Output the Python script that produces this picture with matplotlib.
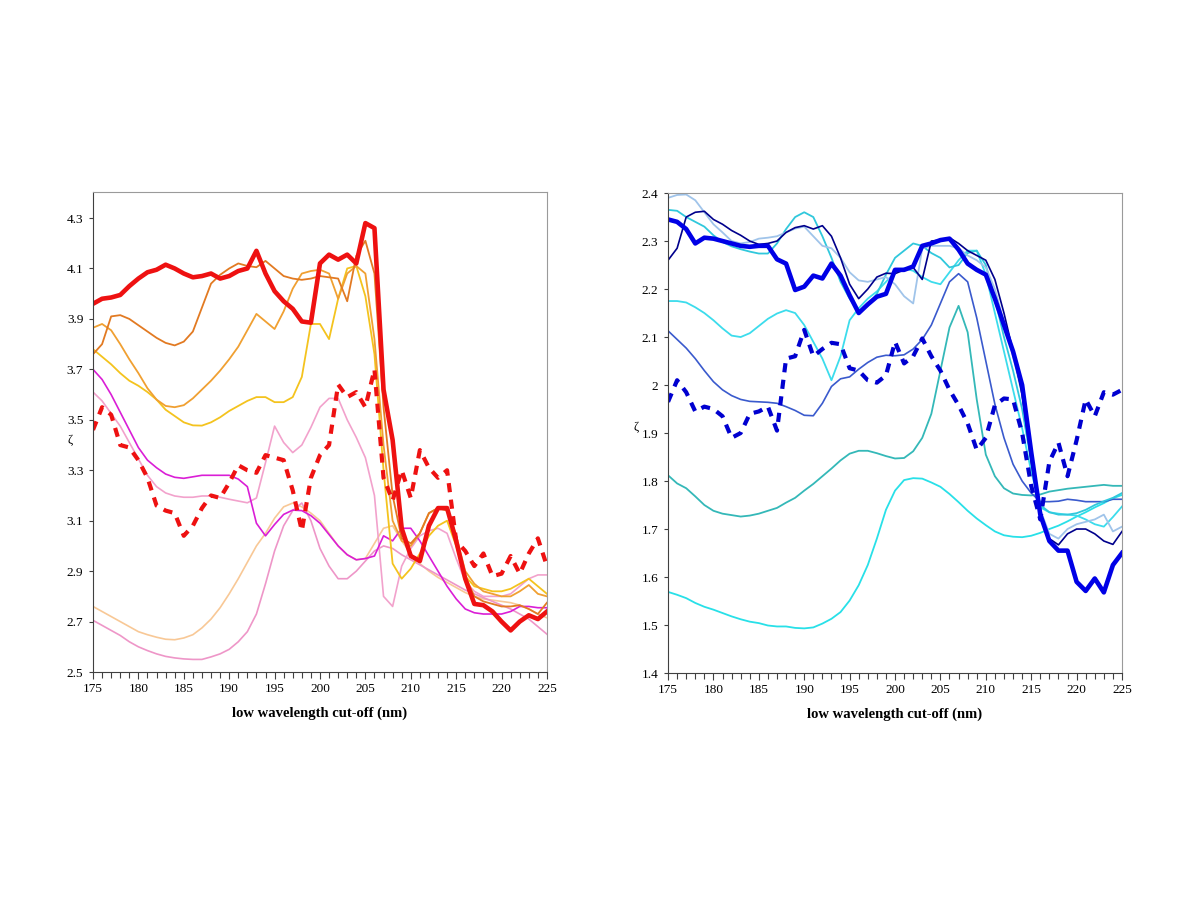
import matplotlib
matplotlib.use('Agg')
import matplotlib.pyplot as plt
from matplotlib.ticker import MultipleLocator, FormatStrFormatter

plt.rcParams['font.family'] = ['Liberation Serif', 'DejaVu Serif']

# wavelength cut-off (nm)
wl = list(range(175, 226))

# left panel
red_thick = [3.96, 3.98, 3.985, 3.995, 4.03, 4.06, 4.085, 4.095, 4.115, 4.10,
             4.08, 4.065, 4.07, 4.08, 4.06, 4.07, 4.09, 4.10, 4.17, 4.08,
             4.01, 3.97, 3.94, 3.89, 3.885, 4.12, 4.155, 4.135, 4.155, 4.12,
             4.28, 4.26, 3.62, 3.42, 3.07, 2.96, 2.94, 3.08, 3.15, 3.15,
             3.02, 2.87, 2.77, 2.765, 2.74, 2.70, 2.665, 2.70, 2.725, 2.71,
             2.74]
red_dash = [3.46, 3.55, 3.52, 3.40, 3.39, 3.34, 3.27, 3.16, 3.14, 3.13,
            3.04, 3.08, 3.15, 3.20, 3.19, 3.25, 3.32, 3.30, 3.29, 3.36,
            3.35, 3.34, 3.22, 3.06, 3.27, 3.36, 3.40, 3.64, 3.59, 3.61,
            3.55, 3.70, 3.27, 3.18, 3.30, 3.19, 3.38, 3.31, 3.27, 3.30,
            3.02, 2.98, 2.92, 2.97, 2.88, 2.89, 2.96, 2.89, 2.97, 3.03,
            2.92]
dark_orange = [3.76, 3.80, 3.91, 3.915, 3.90, 3.875, 3.85, 3.825, 3.805, 3.795,
               3.81, 3.85, 3.945, 4.04, 4.075, 4.10, 4.12, 4.11, 4.105, 4.13,
               4.10, 4.07, 4.06, 4.055, 4.06, 4.07, 4.065, 4.06, 3.97, 4.15,
               4.21, 4.08, 3.55, 3.20, 3.03, 3.01, 3.05, 3.13, 3.15, 3.14,
               3.02, 2.88, 2.80, 2.78, 2.77, 2.76, 2.76, 2.765, 2.75, 2.73,
               2.775]
orange = [3.865, 3.88, 3.855, 3.80, 3.74, 3.685, 3.625, 3.58, 3.555, 3.55,
          3.558, 3.585, 3.62, 3.655, 3.695, 3.74, 3.79, 3.855, 3.92, 3.89,
          3.86, 3.93, 4.02, 4.08, 4.09, 4.095, 4.08, 3.98, 4.08, 4.11,
          4.08, 3.82, 3.40, 3.10, 3.02, 3.00, 3.05, 3.13, 3.15, 3.15,
          3.04, 2.90, 2.85, 2.82, 2.81, 2.80, 2.80, 2.82, 2.845, 2.81,
          2.80]
yellow = [3.78, 3.75, 3.72, 3.685, 3.655, 3.635, 3.61, 3.58, 3.54, 3.515,
          3.49, 3.478, 3.477, 3.49, 3.51, 3.535, 3.555, 3.575, 3.59, 3.59,
          3.57, 3.57, 3.59, 3.67, 3.88, 3.88, 3.82, 3.98, 4.10, 4.11,
          3.99, 3.76, 3.30, 2.93, 2.87, 2.91, 2.97, 3.04, 3.08, 3.10,
          3.00, 2.88, 2.84, 2.83, 2.82, 2.82, 2.83, 2.85, 2.87, 2.84,
          2.81]
magenta = [3.70, 3.66, 3.60, 3.53, 3.46, 3.39, 3.34, 3.31, 3.285, 3.272,
           3.268, 3.274, 3.28, 3.28, 3.28, 3.28, 3.265, 3.235, 3.09, 3.04,
           3.085, 3.125, 3.142, 3.14, 3.12, 3.09, 3.045, 3.00, 2.965, 2.945,
           2.95, 2.96, 3.04, 3.02, 3.07, 3.07, 3.02, 2.96, 2.90, 2.84,
           2.79, 2.75, 2.735, 2.73, 2.73, 2.73, 2.74, 2.76, 2.76, 2.755,
           2.755]
pink_a = [3.61, 3.575, 3.525, 3.475, 3.41, 3.345, 3.28, 3.235, 3.21, 3.198,
          3.193, 3.193, 3.198, 3.198, 3.193, 3.185, 3.178, 3.171, 3.19, 3.33,
          3.475, 3.41, 3.37, 3.40, 3.47, 3.55, 3.585, 3.585, 3.50, 3.43,
          3.35, 3.20, 2.80, 2.76, 2.92, 2.99, 3.04, 3.06, 3.07, 3.05,
          2.95, 2.86, 2.82, 2.80, 2.80, 2.80, 2.81, 2.84, 2.87, 2.885,
          2.885]
pink_b = [2.705, 2.685, 2.665, 2.645, 2.62, 2.60, 2.585, 2.572, 2.562, 2.556,
          2.552, 2.55, 2.55, 2.56, 2.572, 2.59, 2.62, 2.66, 2.73, 2.85,
          2.98, 3.08, 3.14, 3.17, 3.10, 2.99, 2.92, 2.87, 2.87, 2.90,
          2.94, 2.98, 3.00, 2.99, 2.965, 2.945, 2.925, 2.905, 2.885, 2.865,
          2.845, 2.825, 2.81, 2.795, 2.78, 2.765, 2.75, 2.73, 2.71, 2.68,
          2.65]
peach = [2.76, 2.74, 2.72, 2.70, 2.68, 2.66, 2.648, 2.638, 2.63, 2.628,
         2.635, 2.648, 2.675, 2.71, 2.755, 2.81, 2.87, 2.935, 3.00, 3.05,
         3.11, 3.155, 3.17, 3.155, 3.13, 3.10, 3.05, 3.00, 2.965, 2.945,
         2.95, 3.01, 3.07, 3.08, 3.02, 2.97, 2.93, 2.90, 2.875, 2.855,
         2.835, 2.815, 2.80, 2.79, 2.785, 2.78, 2.775, 2.765, 2.75, 2.73,
         2.715]

# right panel
blue_thick = [2.345, 2.34, 2.325, 2.295, 2.307, 2.305, 2.30, 2.295, 2.29, 2.288,
              2.29, 2.29, 2.262, 2.253, 2.198, 2.205, 2.228, 2.222, 2.253, 2.228,
              2.187, 2.15, 2.168, 2.184, 2.19, 2.24, 2.24, 2.247, 2.29, 2.295,
              2.302, 2.305, 2.282, 2.253, 2.24, 2.23, 2.18, 2.125, 2.07, 2.00,
              1.86, 1.73, 1.675, 1.655, 1.655, 1.59, 1.571, 1.597, 1.568, 1.625,
              1.65]
blue_dash = [1.965, 2.01, 1.985, 1.945, 1.955, 1.950, 1.935, 1.89, 1.90, 1.94,
             1.945, 1.955, 1.905, 2.055, 2.06, 2.115, 2.06, 2.075, 2.088, 2.085,
             2.035, 2.03, 2.01, 2.005, 2.02, 2.09, 2.045, 2.06, 2.097, 2.06,
             2.03, 1.99, 1.958, 1.92, 1.865, 1.89, 1.958, 1.972, 1.97, 1.90,
             1.79, 1.72, 1.84, 1.88, 1.81, 1.885, 1.97, 1.935, 1.985, 1.98,
             1.99]
navy = [2.26, 2.285, 2.35, 2.36, 2.362, 2.345, 2.335, 2.322, 2.312, 2.30,
        2.293, 2.295, 2.30, 2.318, 2.328, 2.332, 2.325, 2.332, 2.31, 2.265,
        2.21, 2.18, 2.20, 2.225, 2.233, 2.232, 2.24, 2.245, 2.22, 2.30,
        2.302, 2.307, 2.295, 2.28, 2.27, 2.26, 2.22, 2.15, 2.07, 1.98,
        1.84, 1.73, 1.68, 1.667, 1.69, 1.70, 1.70, 1.69, 1.675, 1.668,
        1.695]
light_blue = [2.39, 2.396, 2.397, 2.385, 2.36, 2.335, 2.318, 2.30, 2.295, 2.298,
              2.305, 2.307, 2.31, 2.318, 2.326, 2.33, 2.31, 2.29, 2.285, 2.265,
              2.235, 2.218, 2.215, 2.22, 2.225, 2.21, 2.185, 2.17, 2.285, 2.29,
              2.29, 2.29, 2.285, 2.27, 2.26, 2.245, 2.20, 2.13, 2.06, 1.98,
              1.85, 1.74, 1.69, 1.68, 1.70, 1.71, 1.715, 1.72, 1.73, 1.695,
              1.705]
royal = [2.113, 2.095, 2.077, 2.055, 2.03, 2.007, 1.99, 1.978, 1.97, 1.966,
         1.965, 1.964, 1.962, 1.955, 1.947, 1.937, 1.936, 1.962, 1.997, 2.013,
         2.017, 2.033, 2.047, 2.058, 2.062, 2.061, 2.063, 2.075, 2.095, 2.125,
         2.17, 2.215, 2.232, 2.215, 2.14, 2.05, 1.96, 1.89, 1.835, 1.80,
         1.775, 1.757, 1.757, 1.758, 1.762, 1.76, 1.757, 1.757, 1.757, 1.762,
         1.762]
teal = [1.812, 1.795, 1.785, 1.768, 1.75, 1.738, 1.732, 1.729, 1.726, 1.728,
        1.732, 1.738, 1.744, 1.755, 1.765, 1.78, 1.794, 1.81, 1.826, 1.843,
        1.857, 1.863, 1.863, 1.858, 1.852, 1.847, 1.848, 1.862, 1.89, 1.94,
        2.03, 2.12, 2.165, 2.11, 1.97, 1.855, 1.81, 1.785, 1.774, 1.771,
        1.77, 1.772, 1.778, 1.781, 1.784, 1.786, 1.788, 1.79, 1.792, 1.79,
        1.79]
cyan1 = [2.365, 2.363, 2.35, 2.34, 2.33, 2.312, 2.298, 2.289, 2.283, 2.278,
         2.274, 2.274, 2.295, 2.325, 2.35, 2.36, 2.35, 2.31, 2.265, 2.215,
         2.18, 2.152, 2.165, 2.19, 2.23, 2.265, 2.28, 2.295, 2.29, 2.275,
         2.265, 2.245, 2.25, 2.275, 2.28, 2.25, 2.18, 2.10, 2.03, 1.95,
         1.84, 1.75, 1.735, 1.73, 1.73, 1.733, 1.74, 1.75, 1.758, 1.765,
         1.775]
cyan2 = [2.175, 2.175, 2.172, 2.162, 2.15, 2.135, 2.118, 2.103, 2.10, 2.108,
         2.123, 2.138, 2.149, 2.156, 2.15, 2.125, 2.09, 2.055, 2.01, 2.06,
         2.135, 2.16, 2.18, 2.195, 2.215, 2.235, 2.243, 2.238, 2.225, 2.215,
         2.21, 2.235, 2.26, 2.28, 2.28, 2.23, 2.15, 2.07, 1.99, 1.91,
         1.82, 1.745, 1.735, 1.732, 1.73, 1.728, 1.72, 1.71, 1.705, 1.725,
         1.747]
aqua = [1.569, 1.563, 1.556, 1.546, 1.538, 1.532, 1.525, 1.518, 1.512, 1.507,
        1.504, 1.499, 1.497, 1.497, 1.494, 1.493, 1.495, 1.503, 1.513, 1.527,
        1.551, 1.583, 1.625, 1.68, 1.74, 1.78, 1.802, 1.806, 1.805, 1.797,
        1.788, 1.773, 1.756, 1.738, 1.722, 1.708, 1.695, 1.687, 1.684, 1.683,
        1.686, 1.692, 1.70, 1.707, 1.716, 1.726, 1.735, 1.745, 1.754, 1.764,
        1.771]

fig = plt.figure(figsize=(12, 9), dpi=100)
ax1 = fig.add_axes([0.0775, 0.2533, 0.3783, 0.5333])
ax2 = fig.add_axes([0.5567, 0.2522, 0.3783, 0.5333])

# thin lines first, thick ones on top
ax1.plot(wl, peach, color='#F8C896', lw=1.2)
ax1.plot(wl, pink_b, color='#EE96C8', lw=1.2)
ax1.plot(wl, pink_a, color='#F2A2CC', lw=1.2)
ax1.plot(wl, magenta, color='#DA1ED6', lw=1.2)
ax1.plot(wl, yellow, color='#F4C31E', lw=1.3)
ax1.plot(wl, orange, color='#F0A032', lw=1.3)
ax1.plot(wl, dark_orange, color='#E27A22', lw=1.3)
ax1.plot(wl, red_dash, color='#EE1111', lw=3, dashes=(2.2, 1.8))
ax1.plot(wl, red_thick, color='#EE1111', lw=3.3)

ax2.plot(wl, aqua, color='#28E0E8', lw=1.3)
ax2.plot(wl, teal, color='#34B8B8', lw=1.3)
ax2.plot(wl, royal, color='#3A5ACD', lw=1.2)
ax2.plot(wl, cyan2, color='#3CDCEC', lw=1.3)
ax2.plot(wl, cyan1, color='#30C8DC', lw=1.3)
ax2.plot(wl, light_blue, color='#A0C4EA', lw=1.3)
ax2.plot(wl, navy, color='#00008C', lw=1.2)
ax2.plot(wl, blue_dash, color='#0000D0', lw=3, dashes=(2.2, 1.8))
ax2.plot(wl, blue_thick, color='#0000E6', lw=3.3)

ax1.set_ylim(2.5, 4.403)
ax1.set_yticks([2.5, 2.7, 2.9, 3.1, 3.3, 3.5, 3.7, 3.9, 4.1, 4.3])
ax1.yaxis.set_major_formatter(FormatStrFormatter('%.1f'))
ax2.set_ylim(1.4, 2.4)
ax2.yaxis.set_major_locator(MultipleLocator(0.1))
ax2.yaxis.set_major_formatter(plt.FuncFormatter(lambda v, p: '%g' % round(v, 2)))

for ax in (ax1, ax2):
    ax.set_xlim(175, 225)
    ax.xaxis.set_major_locator(MultipleLocator(5))
    ax.xaxis.set_minor_locator(MultipleLocator(1))
    ax.tick_params(axis='x', which='major', direction='out', length=5,
                   width=0.8, labelsize=9.5, pad=3, color='#404040')
    ax.tick_params(axis='x', which='minor', direction='out', length=4,
                   width=0.8, color='#404040')
    ax.tick_params(axis='y', direction='out', length=3, width=0.8,
                   labelsize=9.5, pad=4, color='#404040')
    ax.spines['left'].set_color('#404040')
    ax.spines['bottom'].set_color('#404040')
    ax.spines['top'].set_color('#9a9a9a')
    ax.spines['right'].set_color('#9a9a9a')
    ax.set_xlabel('low wavelength cut-off (nm)', fontsize=10.5,
                  fontweight='bold', labelpad=8)
    ax.set_ylabel('ζ', rotation=0, fontsize=9)

# the ζ label sits among the tick labels, as in the original
ax1.yaxis.set_label_coords(-0.05, 0.47)
ax2.yaxis.set_label_coords(-0.07, 0.5)

fig.savefig('out.png', dpi=100)
